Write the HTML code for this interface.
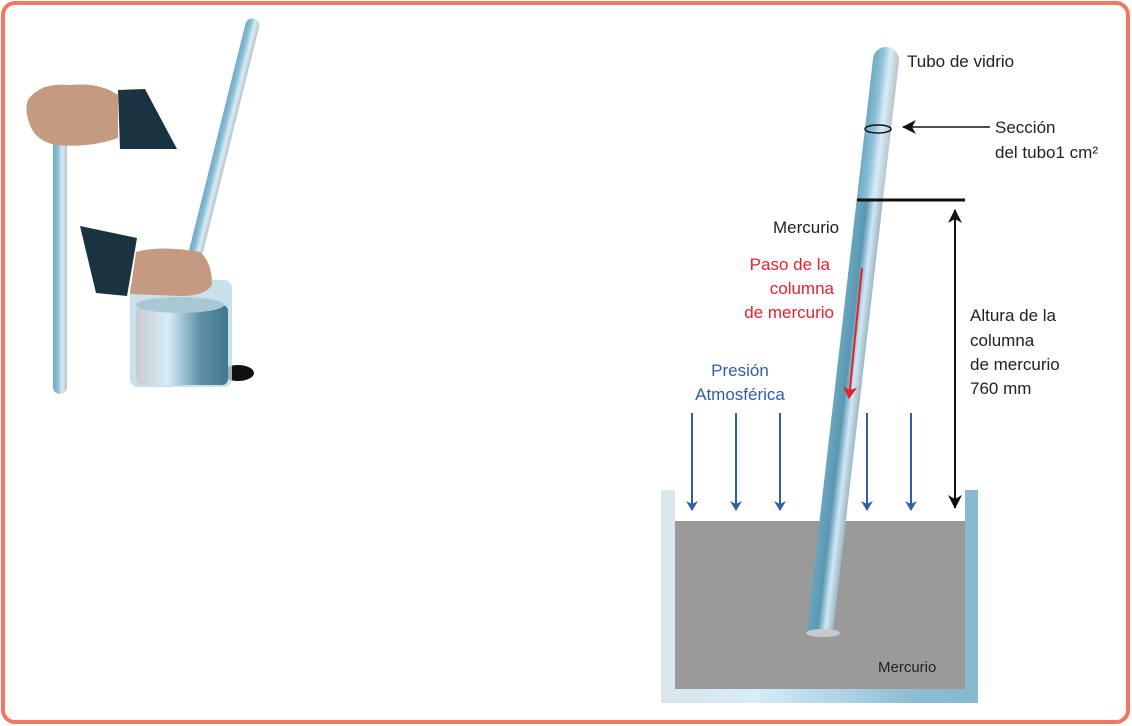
<!DOCTYPE html>
<html><head><meta charset="utf-8"><style>
html,body{margin:0;padding:0;background:#fff}
svg{display:block}
text{font-family:"Liberation Sans","DejaVu Sans",sans-serif}
</style></head><body>
<svg width="1132" height="726" viewBox="0 0 1132 726" xmlns="http://www.w3.org/2000/svg">
<defs>
<linearGradient id="tube" x1="0" x2="1" y1="0" y2="0">
<stop offset="0" stop-color="#6fa9c2"/><stop offset="0.35" stop-color="#8cc0d6"/><stop offset="0.65" stop-color="#d8edf6"/><stop offset="1" stop-color="#b8c4cc"/>
</linearGradient>
<linearGradient id="merc" x1="0" x2="1"><stop offset="0" stop-color="#6aa5be"/><stop offset="0.4" stop-color="#5a97b2"/><stop offset="0.7" stop-color="#cfe8f4"/><stop offset="1" stop-color="#9fb7c4"/></linearGradient>
<linearGradient id="wall" x1="0" x2="1"><stop offset="0" stop-color="#dbe6ec"/><stop offset="0.3" stop-color="#d6ecf7"/><stop offset="0.8" stop-color="#8dbdd3"/><stop offset="1" stop-color="#86b9d0"/></linearGradient>
<linearGradient id="beak" x1="0" x2="1"><stop offset="0" stop-color="#c9ccd0"/><stop offset="0.35" stop-color="#d8ecf7"/><stop offset="0.7" stop-color="#5d8fa6"/><stop offset="1" stop-color="#42788e"/></linearGradient>
<marker id="ab" markerWidth="10" markerHeight="12" refX="9" refY="6" orient="auto" markerUnits="userSpaceOnUse"><path d="M0,0 L10,6 L0,12 L3,6 Z" fill="#2f5daa"/></marker>
<marker id="ak" markerWidth="14" markerHeight="14" refX="13" refY="7" orient="auto" markerUnits="userSpaceOnUse"><path d="M0,0 L14,7 L0,14 L4,7 Z" fill="#111"/></marker>
<marker id="ar" markerWidth="12" markerHeight="14" refX="11" refY="7" orient="auto" markerUnits="userSpaceOnUse"><path d="M0,0 L12,7 L0,14 L3,7 Z" fill="#e8202e"/></marker>
</defs>
<rect x="3" y="3" width="1125" height="719" rx="12" fill="#fff" stroke="#f47560" stroke-width="4"/>

<!-- left figure -->
<rect x="53" y="88" width="14" height="306" rx="7" fill="url(#tube)"/>
<path d="M28,100 Q40,82 70,85 Q100,82 118,95 L118,138 Q90,148 55,145 Q35,140 30,125 Q24,110 28,100Z" fill="#c49a80"/>
<path d="M118,90 L145,89 L177,149 L120,149 Z" fill="#1a3340"/>
<g transform="rotate(14 225 135)"><rect x="218" y="15" width="14" height="245" rx="7" fill="url(#tube)"/></g>
<ellipse cx="238" cy="373" rx="16" ry="8" fill="#111"/>
<rect x="130" y="280" width="102" height="107" rx="8" fill="#bcd9e6" opacity="0.8"/>
<rect x="136" y="305" width="92" height="80" rx="6" fill="url(#beak)"/>
<ellipse cx="180" cy="305" rx="44" ry="8" fill="#a9c7d4"/>
<path d="M80,226 L137,238 L127,296 L96,293 Z" fill="#1a3340"/>
<path d="M136,252 Q160,245 200,252 Q212,262 212,285 Q205,296 180,296 L130,294 Z" fill="#c49a80"/>

<!-- tank -->
<rect x="661" y="490" width="317" height="213" fill="url(#wall)"/>
<rect x="675" y="490" width="290" height="31" fill="#fff"/>
<rect x="675" y="521" width="290" height="168" fill="#9a9a9a"/>

<!-- tube -->
<g transform="rotate(6.6 886 60)">
<rect x="873" y="47" width="26" height="590" rx="13" fill="url(#tube)"/>
<rect x="873" y="200" width="26" height="437" fill="url(#merc)"/>
</g>
<ellipse cx="823" cy="633" rx="17" ry="4" fill="#c8cbce"/>
<ellipse cx="878" cy="129" rx="13" ry="4" fill="none" stroke="#111" stroke-width="1.5"/>

<line x1="857" y1="200" x2="965" y2="200" stroke="#111" stroke-width="3"/>
<line x1="955" y1="215" x2="955" y2="508" stroke="#111" stroke-width="2" marker-end="url(#ak)"/>
<line x1="955" y1="490" x2="955" y2="210" stroke="#111" stroke-width="2" marker-end="url(#ak)"/>
<line x1="990" y1="127" x2="903" y2="127" stroke="#111" stroke-width="1.5" marker-end="url(#ak)"/>

<g stroke="#2f5daa" stroke-width="2">
<line x1="692" y1="413" x2="692" y2="510" marker-end="url(#ab)"/>
<line x1="736" y1="413" x2="736" y2="510" marker-end="url(#ab)"/>
<line x1="780" y1="413" x2="780" y2="510" marker-end="url(#ab)"/>
<line x1="867" y1="413" x2="867" y2="510" marker-end="url(#ab)"/>
<line x1="911" y1="413" x2="911" y2="510" marker-end="url(#ab)"/>
</g>
<line x1="862" y1="268" x2="849" y2="398" stroke="#e8202e" stroke-width="2" marker-end="url(#ar)"/>

<g font-size="17" fill="#222">
<text x="907" y="67">Tubo de vidrio</text>
<text x="995" y="133">Sección</text>
<text x="995" y="158">del tubo1 cm²</text>
<text x="773" y="233">Mercurio</text>
<text x="970" y="321">Altura de la</text>
<text x="970" y="346">columna</text>
<text x="970" y="370">de mercurio</text>
<text x="970" y="394">760 mm</text>
</g>
<g font-size="17" fill="#e8202e" text-anchor="end">
<text x="830" y="270">Paso de la</text>
<text x="834" y="294">columna</text>
<text x="834" y="318">de mercurio</text>
</g>
<g font-size="17" fill="#2f5daa" text-anchor="middle">
<text x="740" y="376">Presión</text>
<text x="740" y="400">Atmosférica</text>
</g>
<text x="878" y="672" font-size="15" fill="#222">Mercurio</text>
</svg>
</body></html>
